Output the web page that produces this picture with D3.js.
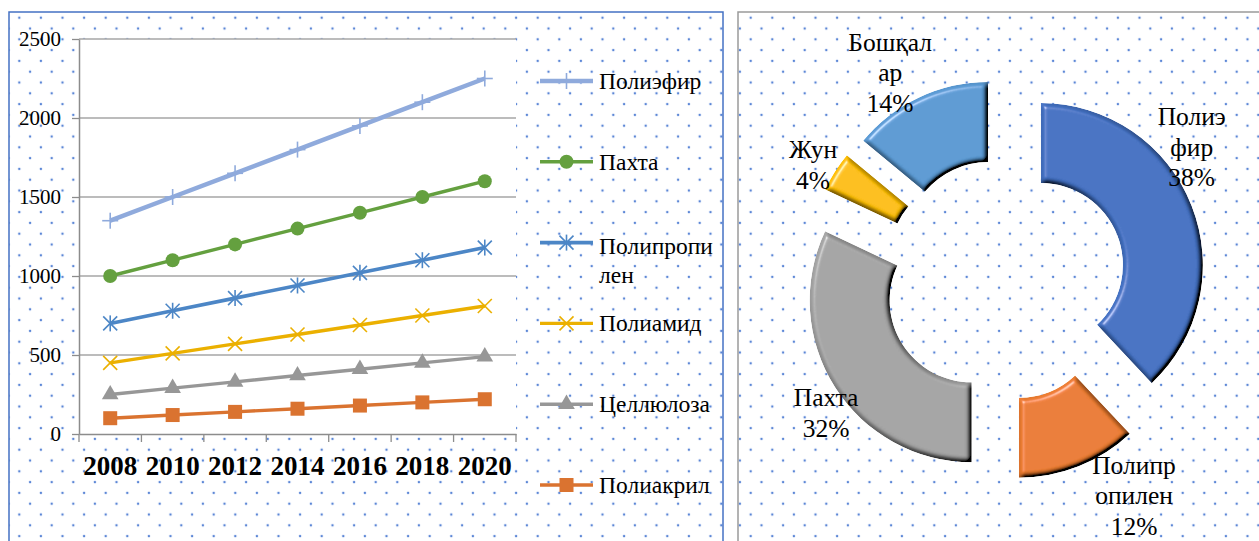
<!DOCTYPE html>
<html>
<head>
<meta charset="utf-8">
<script src="https://cdn.jsdelivr.net/npm/d3@7/dist/d3.min.js"></script>
<style>
  html, body { margin: 0; padding: 0; background: #fff; }
  svg { display: block; }
</style>
</head>
<body>
<svg id="chart" width="1259" height="541"></svg>
<script>
// ---- data ----
const years = [2008, 2010, 2012, 2014, 2016, 2018, 2020];
const yTicks = [0, 500, 1000, 1500, 2000, 2500];

const seriesNames = ["Полиэфир", "Пахта", "Полипропилен", "Полиамид", "Целлюлоза", "Полиакрил"];
const legendLines = [["Полиэфир"], ["Пахта"], ["Полипропи", "лен"], ["Полиамид"], ["Целлюлоза"], ["Полиакрил"]];

const polyesterValues      = [1350, 1500, 1650, 1800, 1950, 2100, 2250];
const cottonValues         = [1000, 1100, 1200, 1300, 1400, 1500, 1600];
const polypropyleneValues  = [700, 780, 860, 940, 1020, 1100, 1180];
const polyamideValues      = [450, 510, 570, 630, 690, 750, 810];
const celluloseValues      = [250, 290, 330, 370, 410, 450, 490];
const polyacrylValues      = [100, 120, 140, 160, 180, 200, 220];

const pieNames  = ["Полиэфир", "Полипропилен", "Пахта", "Жун", "Бошқалар"];
const pieValues = [38, 12, 32, 4, 14];
const pieLabelLines = [["Полиэ", "фир", "38%"], ["Полипр", "опилен", "12%"], ["Пахта", "32%"], ["Жун", "4%"], ["Бошқал", "ар", "14%"]];

// ---- styles ----
const FONT = "Liberation Serif";
const lineColors  = ["#8FAADC", "#64A03F", "#4C86C6", "#EBB000", "#979797", "#DA7330"];
const lineWidths  = [4.5, 3.4, 3.6, 3.4, 3.4, 3.4];
const markerKinds = ["plus", "circle", "star", "x", "triangle", "square"];
const pieColors   = ["#4472C4", "#ED7D31", "#A5A5A5", "#FFC000", "#5B9BD5"];

const seriesValues = [polyesterValues, cottonValues, polypropyleneValues, polyamideValues, celluloseValues, polyacrylValues];

const svg = d3.select("#chart");
const defs = svg.append("defs");

// dotted fill used behind both panels
function dotPattern(id, ox, oy) {
  const p = defs.append("pattern")
    .attr("id", id)
    .attr("patternUnits", "userSpaceOnUse")
    .attr("width", 21.6).attr("height", 21.6)
    .attr("patternTransform", `translate(${ox},${oy})`);
  p.append("rect").attr("width", 21.6).attr("height", 21.6).attr("fill", "#fff");
  [[0, 0], [21.6, 0], [0, 21.6], [21.6, 21.6], [10.8, 10.8]].forEach(([x, y]) => {
    p.append("circle").attr("cx", x).attr("cy", y).attr("r", 1.25).attr("fill", "#5A86D6");
  });
}
dotPattern("dotsLeft", 19.3, 17.7);
dotPattern("dotsRight", 750.7, 17.7);

// bevelled look for doughnut segments
const f = defs.append("filter").attr("id", "bevel")
  .attr("x", "-10%").attr("y", "-10%").attr("width", "120%").attr("height", "120%");
f.append("feGaussianBlur").attr("in", "SourceAlpha").attr("stdDeviation", 2.8).attr("result", "blur");
const dl = f.append("feDiffuseLighting").attr("in", "blur").attr("surfaceScale", 7)
  .attr("diffuseConstant", 1.18).attr("lighting-color", "#fff").attr("result", "diff");
dl.append("feDistantLight").attr("azimuth", 225).attr("elevation", 55);
f.append("feComposite").attr("in", "SourceGraphic").attr("in2", "diff")
  .attr("operator", "arithmetic").attr("k1", 1).attr("k2", 0).attr("k3", 0).attr("k4", 0).attr("result", "shaded");
const sl = f.append("feSpecularLighting").attr("in", "blur").attr("surfaceScale", 5)
  .attr("specularConstant", 0.45).attr("specularExponent", 35).attr("lighting-color", "#fff").attr("result", "spec");
sl.append("feDistantLight").attr("azimuth", 225).attr("elevation", 40);
f.append("feComposite").attr("in", "spec").attr("in2", "SourceAlpha").attr("operator", "in").attr("result", "spec2");
f.append("feComposite").attr("in", "shaded").attr("in2", "spec2")
  .attr("operator", "arithmetic").attr("k1", 0).attr("k2", 1).attr("k3", 1).attr("k4", 0).attr("result", "lit");
f.append("feComposite").attr("in", "lit").attr("in2", "SourceAlpha").attr("operator", "in");

// ---- panels ----
svg.append("rect").attr("x", 9).attr("y", 12).attr("width", 714).attr("height", 560)
  .attr("fill", "url(#dotsLeft)").attr("stroke", "#4472C4").attr("stroke-width", 1.5);
svg.append("rect").attr("x", 738).attr("y", 12).attr("width", 560).attr("height", 560)
  .attr("fill", "url(#dotsRight)").attr("stroke", "#9A9A9A").attr("stroke-width", 1.5);

// ---- line chart ----
const plot = { left: 79, right: 516, top: 39, bottom: 434 };
const x = d3.scaleBand().domain(years).range([plot.left, plot.right]).padding(0);
const y = d3.scaleLinear().domain([0, 2500]).range([plot.bottom, plot.top]);

svg.append("rect").attr("x", plot.left).attr("y", plot.top)
  .attr("width", plot.right - plot.left).attr("height", plot.bottom - plot.top).attr("fill", "#fff");

// horizontal gridlines
svg.append("g").selectAll("line").data(yTicks.filter(d => d > 0)).join("line")
  .attr("x1", plot.left).attr("x2", plot.right)
  .attr("y1", d => y(d)).attr("y2", d => y(d))
  .attr("stroke", "#A6A6A6").attr("stroke-width", 1.3);

// value axis
const yAxis = svg.append("g").attr("transform", `translate(${plot.left},0)`)
  .call(d3.axisLeft(y).tickValues(yTicks).tickFormat(d3.format("d")).tickSize(7).tickPadding(11).tickSizeOuter(0));
yAxis.attr("font-family", FONT);
yAxis.select(".domain").attr("stroke", "#8C8C8C").attr("stroke-width", 1.5);
yAxis.selectAll(".tick line").attr("stroke", "#8C8C8C").attr("stroke-width", 1.3);
yAxis.selectAll(".tick text").attr("font-size", 21).style("font-family", FONT).attr("fill", "#000");

// category axis: ticks sit on the band edges, labels in the middle
const xAxis = svg.append("g").attr("transform", `translate(0,${plot.bottom})`)
  .call(d3.axisBottom(x).tickSize(0).tickPadding(0).tickSizeOuter(0));
xAxis.attr("font-family", FONT);
xAxis.select(".domain").attr("stroke", "#8C8C8C").attr("stroke-width", 1.5);
xAxis.selectAll(".tick text")
  .attr("y", 41).attr("dy", 0)
  .attr("font-size", 27).attr("font-weight", "bold").style("font-family", FONT).attr("fill", "#000");
const edges = years.map(d => x(d)).concat([x(years[years.length - 1]) + x.bandwidth()]);
svg.append("g").selectAll("line").data(edges).join("line")
  .attr("x1", d => d).attr("x2", d => d)
  .attr("y1", plot.bottom).attr("y2", plot.bottom + 8)
  .attr("stroke", "#8C8C8C").attr("stroke-width", 1.3);

function drawMarker(g, kind, color) {
  const s = 7;
  if (kind === "circle") {
    g.append("circle").attr("r", 7).attr("fill", color);
  } else if (kind === "square") {
    g.append("rect").attr("x", -7).attr("y", -7).attr("width", 14).attr("height", 14).attr("fill", color);
  } else if (kind === "triangle") {
    g.append("path").attr("d", d3.symbol(d3.symbolTriangle, 120)()).attr("fill", color);
  } else {
    const segs = [];
    if (kind === "plus" || kind === "star") segs.push([0, -s - 1, 0, s + 1]);
    if (kind === "plus") segs.push([-s - 1, 0, s + 1, 0]);
    if (kind === "x" || kind === "star") segs.push([-s, -s, s, s], [-s, s, s, -s]);
    segs.forEach(([a, b, c, d]) => g.append("line")
      .attr("x1", a).attr("y1", b).attr("x2", c).attr("y2", d)
      .attr("stroke", color).attr("stroke-width", 1.6));
  }
}

const line = d3.line().x((d, i) => x(years[i]) + x.bandwidth() / 2).y(d => y(d));
seriesValues.forEach((vals, si) => {
  const g = svg.append("g");
  g.append("path").attr("d", line(vals)).attr("fill", "none")
    .attr("stroke", lineColors[si]).attr("stroke-width", lineWidths[si]).attr("stroke-linejoin", "round");
  vals.forEach((v, i) => {
    const m = g.append("g").attr("transform", `translate(${x(years[i]) + x.bandwidth() / 2},${y(v)})`);
    drawMarker(m, markerKinds[si], lineColors[si]);
  });
});

// legend
const legendY = d3.scalePoint().domain(seriesNames).range([81, 485]);
seriesNames.forEach((name, si) => {
  const cy = legendY(name);
  const g = svg.append("g").attr("transform", `translate(0,${cy})`);
  g.append("line").attr("x1", 540).attr("x2", 593).attr("y1", 0).attr("y2", 0)
    .attr("stroke", lineColors[si]).attr("stroke-width", lineWidths[si]);
  drawMarker(g.append("g").attr("transform", "translate(566.5,0)"), markerKinds[si], lineColors[si]);
  const lines = legendLines[si];
  const t = g.append("text").attr("x", 599).attr("font-size", 23.5)
    .attr("font-family", FONT).style("font-family", FONT).attr("fill", "#000");
  lines.forEach((ln, li) => {
    t.append("tspan").attr("x", 599)
      .attr("y", (lines.length > 1 ? 4 : 0) + li * 29)
      .attr("dy", "0.33em").text(ln);
  });
});

// ---- doughnut ----
const center = { x: 1004.6, y: 279.4 };
const explode = 39;
const pie = d3.pie().sort(null).value(d => d);
const arc = d3.arc().innerRadius(82).outerRadius(162);
const arcs = pie(pieValues);

const pg = svg.append("g").attr("transform", `translate(${center.x},${center.y})`);
pg.selectAll("path").data(arcs).join("path")
  .attr("d", arc)
  .attr("transform", d => {
    const a = (d.startAngle + d.endAngle) / 2;
    return `translate(${Math.sin(a) * explode},${-Math.cos(a) * explode})`;
  })
  .attr("fill", (d, i) => pieColors[i])
  .attr("filter", "url(#bevel)");

// label placement around the ring: [angle in degrees, distance from centre]
const labelPlacement = [[54.8, 229], [149.1, 252], [233.2, 223], [300.8, 223], [331, 236]];
arcs.forEach((d, i) => {
  const [deg, r] = labelPlacement[i];
  const a = deg * Math.PI / 180;
  const lx = Math.sin(a) * r, ly = -Math.cos(a) * r;
  const lines = pieLabelLines[i];
  const lh = 30.5;
  const t = pg.append("text").attr("text-anchor", "middle").attr("font-size", 25.5)
    .attr("font-family", FONT).style("font-family", FONT).attr("fill", "#000");
  lines.forEach((ln, li) => {
    t.append("tspan").attr("x", lx)
      .attr("y", ly + (li - (lines.length - 1) / 2) * lh)
      .attr("dy", "0.33em").text(ln);
  });
});
</script>
</body>
</html>
